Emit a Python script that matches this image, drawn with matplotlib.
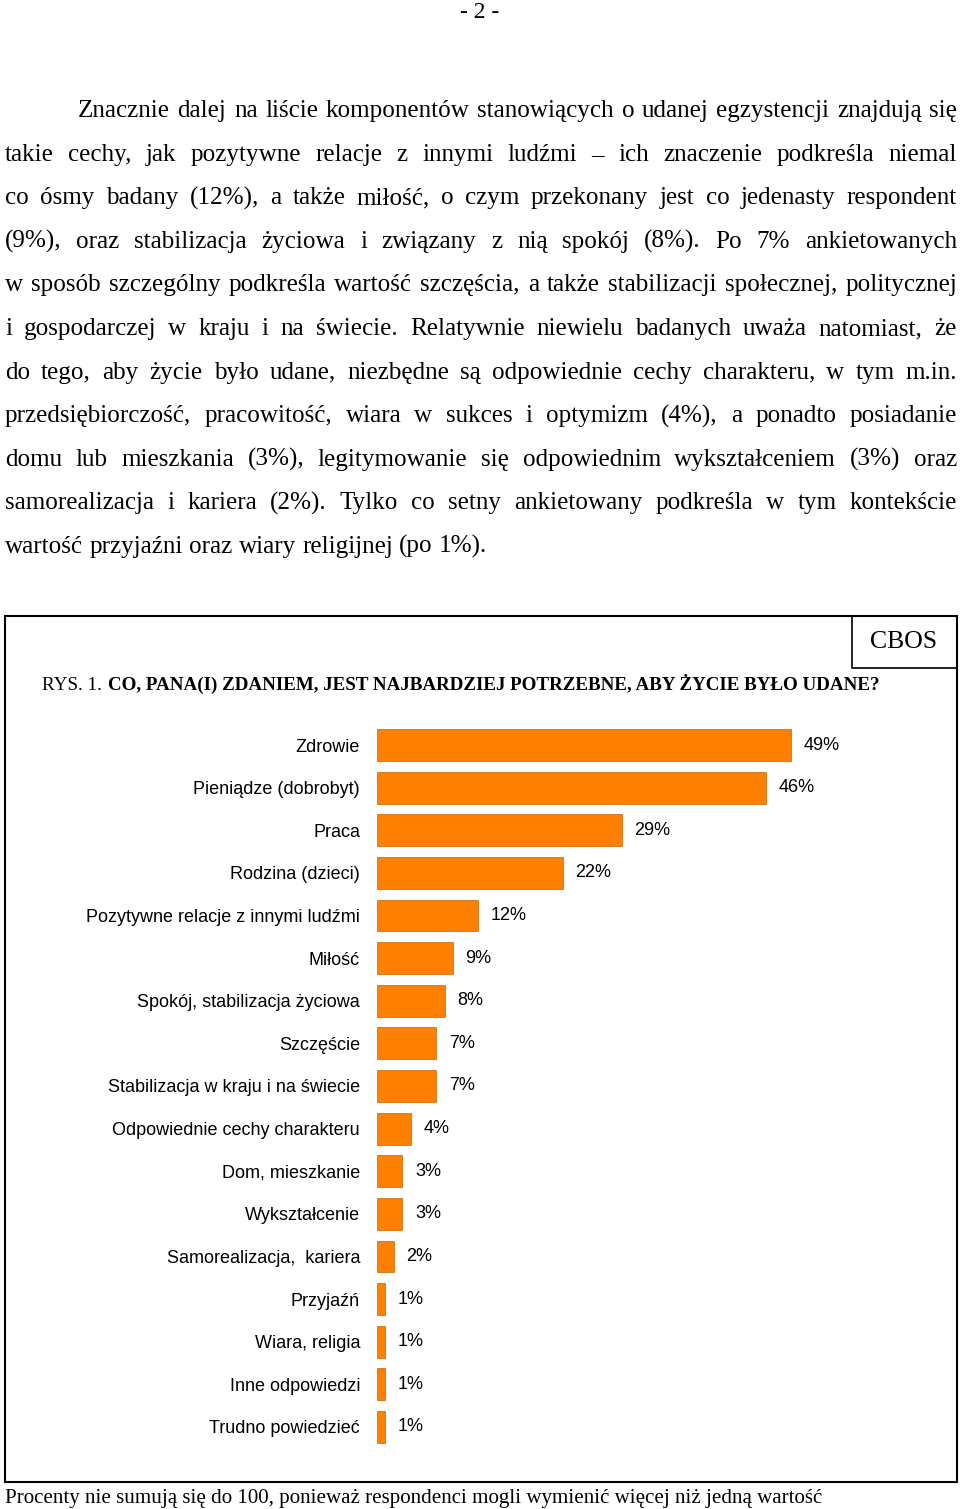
import matplotlib
matplotlib.use('Agg')
import matplotlib.pyplot as plt
from matplotlib.patches import Rectangle

W, H = 960, 1509

# dane wykresu
kategorie = ['Zdrowie', 'Pieniądze (dobrobyt)', 'Praca', 'Rodzina (dzieci)',
             'Pozytywne relacje z innymi ludźmi', 'Miłość',
             'Spokój, stabilizacja życiowa', 'Szczęście',
             'Stabilizacja w kraju i na świecie', 'Odpowiednie cechy charakteru',
             'Dom, mieszkanie', 'Wykształcenie', 'Samorealizacja,  kariera',
             'Przyjaźń', 'Wiara, religia', 'Inne odpowiedzi', 'Trudno powiedzieć']
procenty = [49, 46, 29, 22, 12, 9, 8, 7, 7, 4, 3, 3, 2, 1, 1, 1, 1]

tytul_rys = 'RYS. 1.'
tytul = 'CO, PANA(I) ZDANIEM, JEST NAJBARDZIEJ POTRZEBNE, ABY ŻYCIE BYŁO UDANE?'
przypis = ('Procenty nie sumują się do 100, ponieważ respondenci mogli '
           'wymienić więcej niż jedną wartość')

akapit = [
    'Znacznie dalej na liście komponentów stanowiących o udanej egzystencji znajdują się',
    'takie cechy, jak pozytywne relacje z innymi ludźmi – ich znaczenie podkreśla niemal',
    'co ósmy badany (12%), a także miłość, o czym przekonany jest co jedenasty respondent',
    '(9%), oraz stabilizacja życiowa i związany z nią spokój (8%). Po 7% ankietowanych',
    'w sposób szczególny podkreśla wartość szczęścia, a także stabilizacji społecznej, politycznej',
    'i gospodarczej w kraju i na świecie. Relatywnie niewielu badanych uważa natomiast, że',
    'do tego, aby życie było udane, niezbędne są odpowiednie cechy charakteru, w tym m.in.',
    'przedsiębiorczość, pracowitość, wiara w sukces i optymizm (4%), a ponadto posiadanie',
    'domu lub mieszkania (3%), legitymowanie się odpowiednim wykształceniem (3%) oraz',
    'samorealizacja i kariera (2%). Tylko co setny ankietowany podkreśla w tym kontekście',
    'wartość przyjaźni oraz wiary religijnej (po 1%).',
]

SERIF = 'Liberation Serif'
SANS = 'Liberation Sans'
FS_TEKST = 18.1

fig = plt.figure(figsize=(W / 100, H / 100), dpi=100)
tlo = fig.add_axes([0, 0, 1, 1])
tlo.set_xlim(0, W)
tlo.set_ylim(H, 0)
tlo.axis('off')
r = fig.canvas.get_renderer()


def szer(t):
    return t.get_window_extent(renderer=r).width


# numer strony
tlo.text(480, 18, '- 2 -', family=SERIF, fontsize=17, ha='center', va='baseline')

# akapit wyjustowany
for i, linia in enumerate(akapit):
    slowa = linia.split()
    x0 = 78 if i == 0 else 5
    y = 117 + 43.6 * i
    teksty = [tlo.text(x0, y, s, family=SERIF, fontsize=FS_TEKST, va='baseline') for s in slowa]
    w = [szer(t) for t in teksty]
    if i < len(akapit) - 1:
        odstep = (957 - x0 - sum(w)) / (len(slowa) - 1)
    else:
        odstep = 0.25 * FS_TEKST * 100 / 72
    x = x0
    for t, ww in zip(teksty, w):
        t.set_x(x)
        x += ww + odstep

# ramka wykresu
tlo.add_patch(Rectangle((5, 616), 952, 866, fill=False, lw=1.5, ec='black'))
tlo.add_patch(Rectangle((852, 616), 105, 52, fill=False, lw=1.2, ec='black'))
tlo.text(904, 642, 'CBOS', family=SERIF, fontsize=18.5, ha='center', va='center')

# tytuł - dopasowany do szerokości
t1 = tlo.text(42, 690, tytul_rys, family=SERIF, fontsize=12, va='baseline')
t2 = tlo.text(42, 690, tytul, family=SERIF, fontsize=12, fontweight='bold', va='baseline')
fs = 12 * (838 - 6) / (szer(t1) + szer(t2))
t1.set_fontsize(fs)
t2.set_fontsize(fs)
t2.set_x(42 + szer(t1) + 6)

# przypis
tp = tlo.text(5, 1503, przypis, family=SERIF, fontsize=12, va='baseline')
tp.set_fontsize(12 * 815 / szer(tp))

# wykres słupkowy
px_na_proc = 8.45
gora, dol = 723.7, 1448.3
ax = fig.add_axes([377 / W, 1 - dol / H, 50 * px_na_proc / W, (dol - gora) / H])
y = range(len(kategorie))
slupki = ax.barh(y, procenty, height=0.75, color='#FF8000', edgecolor='#C86400', linewidth=0.5)
ax.set_xlim(0, 50)
ax.set_ylim(len(kategorie) - 0.5, -0.5)
ax.set_yticks(list(y), kategorie, family=SANS, fontsize=13)
ax.set_xticks([])
ax.tick_params(axis='y', length=0, pad=12.2)
for s in ax.spines.values():
    s.set_visible(False)
ax.patch.set_alpha(0)
ax.bar_label(slupki, labels=[f'{v}%' for v in procenty], padding=9,
             family=SANS, fontsize=13)

plt.savefig('out.png', dpi=100)
